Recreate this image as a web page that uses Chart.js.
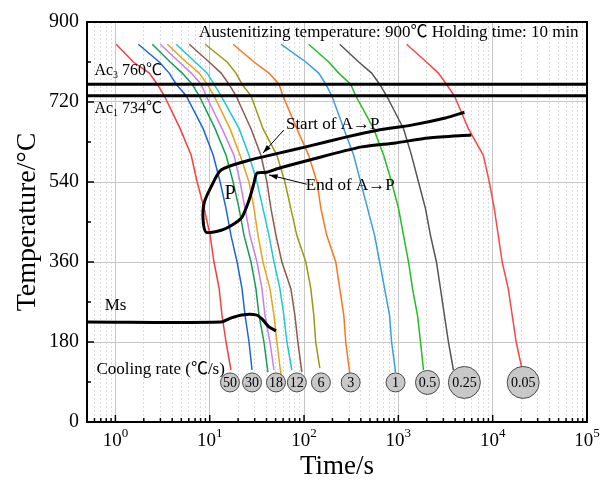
<!DOCTYPE html>
<html>
<head>
<meta charset="utf-8">
<title>CCT diagram</title>
<script src="https://cdn.jsdelivr.net/npm/chart.js@4.4.1/dist/chart.umd.min.js"></script>
<style>
  body { margin: 0; background: #fff; }
</style>
</head>
<body>
<canvas id="cct-chart" width="604" height="490"></canvas>
<script>
// temperature levels (°C) shared by every cooling curve; the last point of each curve is its own end temperature
const tempSteps = [850, 810, 785, 760, 734, 660, 600, 540, 480, 420, 360, 300, 240, 180];

// times (s) at which each cooling curve crosses tempSteps, plus its end point
const timesRed50 = [1.02, 1.55, 2.29, 2.78, 3.30, 4.86, 6.36, 7.36, 8.73, 10.1, 11.1, 12.6, 13.5, 14.9, 16.8];
const timesBlue30 = [1.75, 2.92, 3.72, 4.41, 5.63, 8.51, 10.9, 12.9, 14.9, 16.8, 19.5, 22.0, 23.7, 26.1, 28.1];
const timesGreen = [2.46, 3.81, 5.11, 6.51, 7.73, 11.4, 14.9, 17.7, 20.5, 23.1, 27.4, 30.9, 33.3, 37.6, 41.4];
const timesViolet = [2.99, 4.75, 6.36, 8.11, 9.16, 13.5, 18.1, 21.0, 23.7, 26.7, 31.7, 35.8, 38.5, 43.5, 48.0];
const timesGold = [3.55, 5.63, 7.73, 9.39, 11.1, 16.4, 21.0, 26.1, 29.5, 32.5, 36.7, 43.5, 48.0, 51.6, 56.9];
const timesCyan = [4.41, 7.01, 9.39, 11.1, 13.2, 20.5, 26.1, 31.7, 36.7, 42.5, 48.0, 55.5, 61.1, 65.8, 74.3];
const timesBrown = [6.06, 9.86, 13.2, 16.0, 19.0, 27.4, 34.9, 40.4, 44.6, 50.4, 58.2, 72.5, 80.0, 86.0, 94.8];
const timesOlive6 = [8.94, 15.3, 19.0, 22.0, 27.4, 36.7, 51.6, 62.7, 72.5, 83.9, 104.5, 118, 127, 133, 147];
const timesOrange3 = [17.7, 29.5, 42.5, 54.2, 59.7, 83.9, 112, 137, 151, 174, 217, 239, 264, 277, 305];
const timesSky1 = [56.9, 104.5, 143, 170, 197, 264, 336, 398, 472, 560, 633, 715, 807, 848, 934];
const timesGreen05 = [112, 183, 233, 312, 353, 547, 698, 848, 1005, 1135, 1282, 1413, 1596, 1718, 1847];
const timesGray025 = [239, 380, 521, 633, 750, 1135, 1380, 1635, 1940, 2190, 2535, 2795, 3080, 3395, 3835];
const timesRed005 = [1222, 1986, 2661, 3235, 3927, 5520, 7960, 9205, 10400, 11460, 12620, 14620, 16110, 17750, 20560];
const endTemps = [117, 117, 112, 117, 106, 117, 112, 121, 110, 112, 117, 117, 117];

// cooling-rate markers (°C/s)
const rateLabels = ["50", "30", "18", "12", "6", "3", "1", "0.5", "0.25", "0.05"];
const rateLabelTimes = [16.4, 28.1, 50.4, 83.9, 151, 312, 934, 2036, 5012, 21050];
const rateLabelTemp = 89;

// start / end of austenite -> pearlite, drawn as one line round the nose
const pearliteTimes = [5012, 3155, 1380, 618, 277, 104.5, 54.2, 35.8, 26.1, 13.2, 10.35, 8.73, 8.51, 9.16,
  13.5, 17.3, 22.0, 26.1, 29.5, 31.7, 40.4, 54.2, 112, 408, 934, 2085, 5940];
const pearliteTemps = [697, 684, 668, 657, 641, 619, 605, 596, 589, 567, 529, 493, 454, 427,
  432, 443, 461, 499, 538, 560, 562, 571, 589, 619, 628, 639, 646];

// martensite start
const msTimes = [0.5, 13.2, 16.8, 22.0, 30.9, 35.8, 42.5, 50.4];
const msTemps = [225, 225, 234, 241, 241, 232, 214, 205];

const ac3Temp = 760;
const ac1Temp = 734;
const timeMin = 0.5;
const timeMax = 1e5;
const tempTicks = [0, 180, 360, 540, 720, 900];
const decades = [1, 10, 100, 1000, 10000, 100000];

const curveTimes = [timesRed50, timesBlue30, timesGreen, timesViolet, timesGold, timesCyan, timesBrown,
  timesOlive6, timesOrange3, timesSky1, timesGreen05, timesGray025, timesRed005];
const curveColors = ["#ff3b3b", "#1a66e0", "#12a050", "#c77ef0", "#e9a21a", "#1cc8d8", "#8e5a4c",
  "#999a12", "#ff7518", "#3a9ee0", "#1ec01e", "#555555", "#ff4545"];

const serif = "'Liberation Serif', 'Noto Sans CJK SC', serif";

function toPoints(xs, ys) {
  return xs.map((v, i) => ({ x: v, y: ys[i] }));
}

function isDecade(v) {
  return decades.some((d) => Math.abs(v - d) / d < 1e-6);
}

function drawArrow(ctx, x1, y1, x2, y2) {
  const ang = Math.atan2(y2 - y1, x2 - x1);
  ctx.beginPath();
  ctx.moveTo(x1, y1);
  ctx.lineTo(x2, y2);
  ctx.stroke();
  ctx.beginPath();
  ctx.moveTo(x2, y2);
  ctx.lineTo(x2 - 9 * Math.cos(ang - 0.3), y2 - 9 * Math.sin(ang - 0.3));
  ctx.lineTo(x2 - 9 * Math.cos(ang + 0.3), y2 - 9 * Math.sin(ang + 0.3));
  ctx.closePath();
  ctx.fill();
}

function subText(ctx, base, sub, rest, x, y, size) {
  ctx.font = `${size}px ${serif}`;
  ctx.fillText(base, x, y);
  let cx = x + ctx.measureText(base).width;
  ctx.font = `${size * 0.62}px ${serif}`;
  ctx.fillText(sub, cx, y + size * 0.3);
  cx += ctx.measureText(sub).width;
  ctx.font = `${size}px ${serif}`;
  ctx.fillText(rest, cx, y);
}

const cooling = curveTimes.map((times, i) => ({
  label: "cooling " + (i + 1),
  data: toPoints(times, [...tempSteps, endTemps[i]]),
  borderColor: curveColors[i],
  borderWidth: 1.5,
  pointRadius: 0,
  showLine: true,
  order: 5
}));

const blackLine = (label, data, width, tension) => ({
  label,
  data,
  borderColor: "#000",
  borderWidth: width,
  pointRadius: 0,
  showLine: true,
  tension,
  order: 2
});

const datasets = [
  {
    label: "cooling rate",
    data: rateLabelTimes.map((t) => ({ x: t, y: rateLabelTemp })),
    showLine: false,
    pointRadius: (c) => {
      const n = rateLabels[c.dataIndex].length;
      return n <= 2 ? 9.5 : n === 3 ? 12 : 16;
    },
    pointBackgroundColor: "#c8c8c8",
    pointBorderColor: "#4a4a4a",
    pointBorderWidth: 1,
    order: 0
  },
  blackLine("Ac3", toPoints([timeMin, timeMax], [ac3Temp, ac3Temp]), 3, 0),
  blackLine("Ac1", toPoints([timeMin, timeMax], [ac1Temp, ac1Temp]), 3, 0),
  blackLine("A→P", toPoints(pearliteTimes, pearliteTemps), 3, 0.25),
  blackLine("Ms", toPoints(msTimes, msTemps), 3, 0.3),
  ...cooling
];

const decorations = {
  id: "decorations",
  afterDraw(chart) {
    const { ctx, chartArea: area, scales: { x, y } } = chart;
    const px = (t) => x.getPixelForValue(t);
    const py = (T) => y.getPixelForValue(T);
    ctx.save();

    // frame and inward ticks
    ctx.strokeStyle = "#000";
    ctx.lineWidth = 2;
    ctx.strokeRect(area.left, area.top, area.width, area.height);
    ctx.lineWidth = 1.5;
    x.ticks.forEach((tk) => {
      const xx = px(tk.value);
      const len = isDecade(tk.value) ? 7 : 4;
      ctx.beginPath();
      ctx.moveTo(xx, area.bottom);
      ctx.lineTo(xx, area.bottom - len);
      ctx.stroke();
    });
    y.ticks.forEach((tk) => {
      const yy = py(tk.value);
      const len = tempTicks.includes(tk.value) ? 7 : 4;
      ctx.beginPath();
      ctx.moveTo(area.left, yy);
      ctx.lineTo(area.left + len, yy);
      ctx.stroke();
    });

    // x tick labels as powers of ten
    ctx.fillStyle = "#000";
    ctx.textBaseline = "alphabetic";
    decades.forEach((d) => {
      const exp = String(Math.round(Math.log10(d)));
      ctx.font = `19px ${serif}`;
      const w1 = ctx.measureText("10").width;
      ctx.font = `13px ${serif}`;
      const w2 = ctx.measureText(exp).width;
      const x0 = px(d) - (w1 + w2) / 2;
      ctx.font = `19px ${serif}`;
      ctx.textAlign = "left";
      ctx.fillText("10", x0, area.bottom + 24);
      ctx.font = `13px ${serif}`;
      ctx.fillText(exp, x0 + w1, area.bottom + 15);
    });

    // cooling rate labels inside the markers
    const meta = chart.getDatasetMeta(0);
    ctx.textAlign = "center";
    ctx.textBaseline = "middle";
    ctx.font = `14px ${serif}`;
    meta.data.forEach((pt, i) => {
      ctx.fillText(rateLabels[i], pt.x, pt.y + 1);
    });

    // annotations
    ctx.textAlign = "left";
    ctx.font = `17px ${serif}`;
    ctx.fillText("Austenitizing temperature: 900℃ Holding time: 10 min", px(7.7), py(877));
    subText(ctx, "Ac", "3", " 760℃", px(0.6), py(790), 16);
    subText(ctx, "Ac", "1", " 734℃", px(0.6), py(705), 16);
    ctx.font = `17px ${serif}`;
    ctx.fillText("Start of A→P", px(64.3), py(670));
    ctx.fillText("End of A→P", px(104.5), py(531));
    ctx.fillText("Ms", px(0.77), py(261));
    ctx.fillText("Cooling rate (℃/s)", px(0.63), py(119));
    ctx.font = `20px ${serif}`;
    ctx.textAlign = "center";
    ctx.fillText("P", px(16.4), py(513));

    ctx.lineWidth = 1;
    drawArrow(ctx, px(61.1), py(657), px(36.7), py(605));
    drawArrow(ctx, px(107), py(535), px(42.5), py(556));
    ctx.restore();
  }
};

new Chart(document.getElementById("cct-chart"), {
  type: "scatter",
  data: { datasets },
  options: {
    responsive: false,
    animation: false,
    layout: { padding: { top: 22, right: 14, left: 0, bottom: 0 } },
    plugins: {
      legend: { display: false },
      tooltip: { enabled: false }
    },
    scales: {
      x: {
        type: "logarithmic",
        min: timeMin,
        max: timeMax,
        afterBuildTicks: (scale) => {
          const vals = [0.6, 0.7, 0.8, 0.9];
          decades.forEach((d) => {
            for (let k = 1; k <= 9; k++) {
              if (d * k <= timeMax) vals.push(d * k);
            }
          });
          scale.ticks = vals.map((v) => ({ value: v }));
        },
        afterFit: (scale) => { scale.height = 68; },
        ticks: { display: false },
        grid: {
          drawTicks: false,
          color: (c) => (c.tick && isDecade(c.tick.value) ? "#c6c6c6" : "#dcdcdc"),
          lineWidth: 1
        },
        border: {
          display: false,
          dash: (c) => (c.tick && !isDecade(c.tick.value) ? [2, 2] : [])
        },
        title: {
          display: true,
          text: "Time/s",
          color: "#000",
          font: { family: serif, size: 27 },
          padding: { top: 0, bottom: 7 }
        }
      },
      y: {
        min: 0,
        max: 900,
        afterBuildTicks: (scale) => {
          const vals = [];
          for (let v = 0; v <= 900; v += 90) vals.push(v);
          scale.ticks = vals.map((v) => ({ value: v }));
        },
        afterFit: (scale) => { scale.width = 87; },
        ticks: {
          color: "#000",
          padding: 8,
          font: { family: serif, size: 20 },
          callback: (v) => (tempTicks.includes(v) ? String(v) : "")
        },
        grid: {
          drawTicks: false,
          color: (c) => (c.tick && tempTicks.includes(c.tick.value) ? "#c6c6c6" : "rgba(0,0,0,0)"),
          lineWidth: 1
        },
        border: { display: false },
        title: {
          display: true,
          text: "Temperature/°C",
          color: "#000",
          font: { family: serif, size: 28 },
          padding: { top: 11, bottom: 0 }
        }
      }
    }
  },
  plugins: [decorations]
});
</script>
</body>
</html>
